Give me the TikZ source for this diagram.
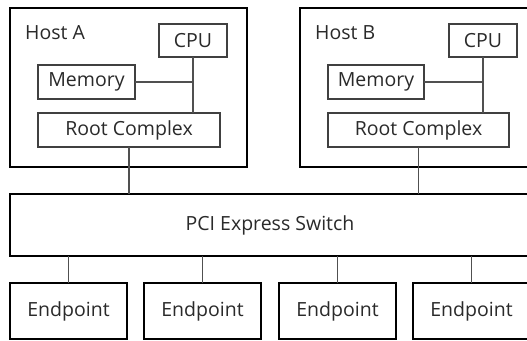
\documentclass[tikz,border=0pt]{standalone}
\usepackage{fontspec}
\setmainfont{Open Sans}
\definecolor{txt}{HTML}{2A2A2A}
\definecolor{ln}{HTML}{505050}
\begin{document}
\begin{tikzpicture}[x=1pt,y=-1pt,
  outer/.style={draw=black,line width=1.8pt,fill=white,inner sep=0pt,outer sep=0pt,anchor=north west,text=txt},
  inner/.style={draw=ln!80!black,line width=1.2pt,fill=white,inner sep=0pt,outer sep=0pt,anchor=north west,text=txt},
  conn/.style={draw=ln,line width=1.2pt},
  lbl/.style={inner sep=0pt,anchor=west,text=txt},
  font=\fontsize{19.5}{22}\selectfont]
\useasboundingbox (0,0) rectangle (527,340);
\clip (0,0) rectangle (527,340);
% Host A
\node[outer,minimum width=237,minimum height=159] (hostA) at (10,8) {};
\node[lbl] (hostAl) at (25,33) {Host A};
\node[inner,minimum width=68,minimum height=33] (cpuA) at (159,24) {CPU};
\node[inner,minimum width=97,minimum height=34] (memA) at (38,65) {Memory};
\node[inner,minimum width=182,minimum height=34] (rootA) at (38,113) {Root Complex};
% Host B
\node[outer,minimum width=237,minimum height=159] (hostB) at (300,8) {};
\node[lbl] (hostBl) at (315,33) {Host B};
\node[inner,minimum width=68,minimum height=33] (cpuB) at (449,24) {CPU};
\node[inner,minimum width=96,minimum height=34] (memB) at (328,65) {Memory};
\node[inner,minimum width=181,minimum height=34] (rootB) at (328,113) {Root Complex};
% Switch
\node[outer,minimum width=520,minimum height=62] (sw) at (10,194) {PCI Express Switch};
% Endpoints
\node[outer,minimum width=117,minimum height=56] (ep1) at (10,283) {Endpoint};
\node[outer,minimum width=117,minimum height=56] (ep2) at (144,283) {Endpoint};
\node[outer,minimum width=117,minimum height=56] (ep3) at (279,283) {Endpoint};
\node[outer,minimum width=117,minimum height=56] (ep4) at (413,283) {Endpoint};
% connectors
\draw[conn] (cpuA.south) -- (cpuA.south |- rootA.north);
\draw[conn] (memA.east) -- (memA.east -| cpuA.south);
\draw[conn] (cpuB.south) -- (cpuB.south |- rootB.north);
\draw[conn] (memB.east) -- (memB.east -| cpuB.south);
\draw[conn] (rootA.south) -- (rootA.south |- sw.north);
\draw[conn] (rootB.south) -- (rootB.south |- sw.north);
\foreach \e in {ep1,ep2,ep3,ep4}{
  \draw[conn] (\e.north) -- (\e.north |- sw.south);
}
\end{tikzpicture}
\end{document}
